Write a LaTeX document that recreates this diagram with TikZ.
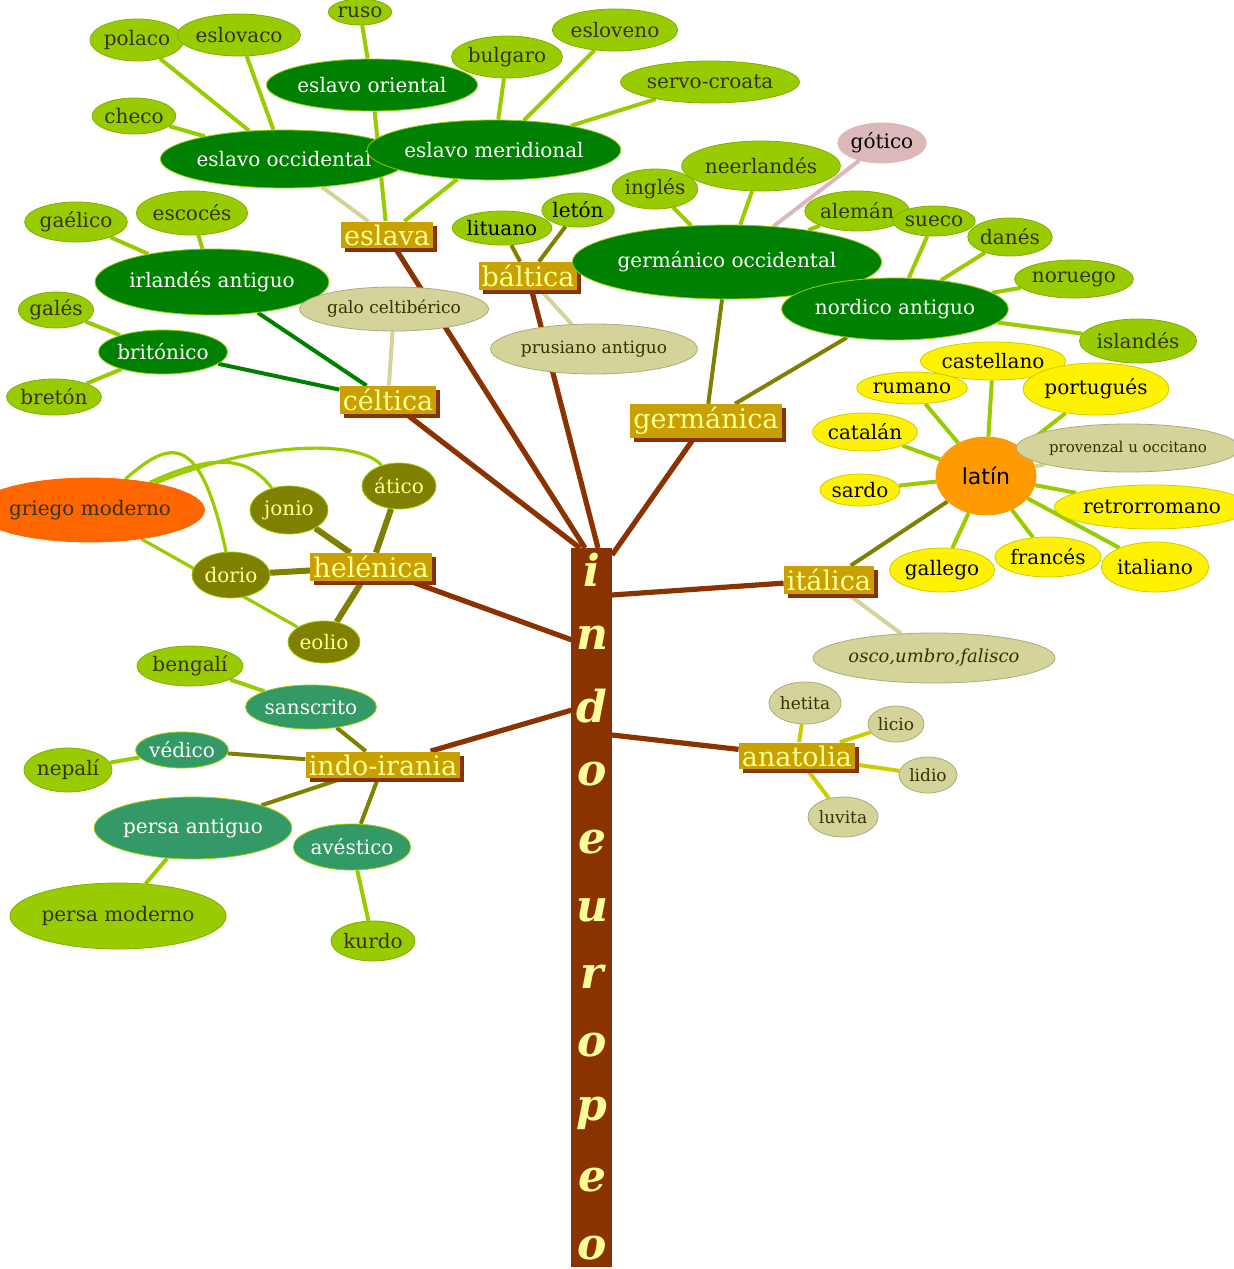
\documentclass[tikz,border=0pt]{standalone}
\usepackage{fontspec}
\setmainfont{DejaVu Serif}
\newfontfamily\sansf{DejaVu Sans}
\usetikzlibrary{shapes.geometric,shadows,backgrounds}
\definecolor{lgreen}{HTML}{99CC00}
\definecolor{dgreen}{HTML}{008000}
\definecolor{olivec}{HTML}{808000}
\definecolor{khaki}{HTML}{D4D49A}
\definecolor{gold}{HTML}{C8A000}
\definecolor{brownc}{HTML}{8B3300}
\definecolor{lyel}{HTML}{FFFF99}
\definecolor{seag}{HTML}{339966}
\definecolor{txt}{HTML}{333300}
\definecolor{pinkc}{HTML}{DDB8B8}
\definecolor{redo}{HTML}{FF6600}
\definecolor{orangec}{HTML}{FF9900}
\definecolor{yelc}{HTML}{CCCC00}
\tikzset{
 W/.style={minimum width=#1*0.5pt}, H/.style={minimum height=#1*0.5pt},
 ell/.style={ellipse, inner sep=0pt, font=\fontsize{10}{11}\selectfont, line width=0.4pt},
 lg/.style={ell, fill=lgreen, draw=lgreen!85!black, text=txt},
 dg/.style={ell, fill=dgreen, draw=lgreen, text=white},
 kh/.style={ell, fill=khaki, draw=khaki!80!black, text=txt},
 ol/.style={ell, fill=olivec, draw=lgreen, text=lyel},
 sg/.style={ell, fill=seag, draw=lgreen, text=white},
 ye/.style={ell, fill=yellow, draw=yelc, text=black},
 br/.style={fill=gold, text=lyel, inner sep=1.5pt, font=\fontsize{13.5}{14}\selectfont,
   drop shadow={fill=brownc, opacity=1, shadow xshift=2pt, shadow yshift=-2pt}},
 bl/.style={draw=brownc, line width=2.6pt},
 gl/.style={draw=lgreen, line width=2pt},
 dl/.style={draw=dgreen, line width=2pt},
 ol2/.style={draw=olivec, line width=2pt},
 kl/.style={draw=khaki, line width=2pt},
 yl/.style={draw=yelc, line width=2pt},
 pl/.style={draw=pinkc, line width=2pt},
}
\begin{document}
\begin{tikzpicture}[x=0.5pt,y=-0.5pt]
\useasboundingbox (0,0) rectangle (1234,1269);
% trunk
\node[fill=brownc, minimum width=20.5pt, minimum height=359.5pt, inner sep=0pt, anchor=north west] (trunk) at (571,548) {};
\foreach \l/\y [count=\i] in {i/570,n/638,d/706,o/774,e/842,u/910,r/977,o/1045,p/1113,e/1180,o/1248}
  \node[text=lyel, font=\fontsize{22}{22}\selectfont\bfseries\itshape] (L\i) at (592,\y) {\l};
\coordinate (tA) at (585,548); \coordinate (tB) at (598,548); \coordinate (tC) at (580,548);
\coordinate (tD) at (612,555); \coordinate (tE) at (572,640); \coordinate (tF) at (612,595);
\coordinate (tG) at (572,710); \coordinate (tH) at (612,735);

% branch boxes
\node[br] (eslava) at (387,235) {eslava};
\node[br] (baltica) at (528,276) {báltica};
\node[br] (celtica) at (388,400) {céltica};
\node[br] (germanica) at (706,421) {germánica};
\node[br] (helenica) at (371,567) {helénica};
\node[br] (italica) at (829,580) {itálica};
\node[br] (indoirania) at (383,765) {indo-irania};
\node[br] (anatolia) at (797,756) {anatolia};

% slavic
\node[dg,W=190,H=58] (eocc) at (284,159) {eslavo occidental};
\node[dg,W=170,H=52] (eori) at (372,85) {eslavo oriental};
\node[dg,W=200,H=60] (emer) at (494,150) {eslavo meridional};
\node[lg,W=80,H=42] (polaco) at (137,40) {polaco};
\node[lg,W=100,H=42] (eslovaco) at (239,35) {eslovaco};
\node[lg,W=70,H=36] (checo) at (134,116) {checo};
\node[lg,W=50,H=26] (ruso) at (360,12) {ruso};
\node[lg,W=96,H=42] (bulgaro) at (507,57) {bulgaro};
\node[lg,W=100,H=42] (esloveno) at (615,30) {esloveno};
\node[lg,W=145,H=42] (servo) at (710,82) {servo-croata};

% baltic
\node[lg,W=90,H=34,text=black] (lituano) at (502,228) {lituano};
\node[lg,W=64,H=34,text=black] (leton) at (578,210) {letón};
\node[kh,W=150,H=50,font=\fontsize{8.5}{9}\selectfont] (prusiano) at (594,349) {prusiano antiguo};

% celtic
\node[dg,W=190,H=66] (irl) at (212,282) {irlandés antiguo};
\node[dg,W=106,H=44] (brit) at (163,352) {britónico};
\node[kh,W=130,H=44,font=\fontsize{8.5}{9}\selectfont] (galo) at (394,309) {galo celtibérico};
\node[lg,W=86,H=40] (gaelico) at (76,222) {gaélico};
\node[lg,W=96,H=44] (escoces) at (192,213) {escocés};
\node[lg,W=68,H=36] (gales) at (56,310) {galés};
\node[lg,W=74,H=36] (breton) at (54,397) {bretón};

% germanic
\node[dg,W=242,H=74] (gocc) at (727,262) {germánico occidental};
\node[dg,W=186,H=62] (nord) at (895,309) {nordico antiguo};
\node[lg,W=78,H=40] (ingles) at (655,189) {inglés};
\node[lg,W=128,H=50] (neer) at (761,166) {neerlandés};
\node[ell,fill=pinkc,draw=pinkc,text=black,W=78,H=40] (gotico) at (882,143) {gótico};
\node[lg,W=86,H=40] (aleman) at (857,211) {alemán};
\node[lg,W=64,H=30] (sueco) at (934,221) {sueco};
\node[lg,W=74,H=38] (danes) at (1010,237) {danés};
\node[lg,W=96,H=38] (noruego) at (1074,279) {noruego};
\node[lg,W=100,H=44] (islandes) at (1138,341) {islandés};

% italic
\node[ell,fill=orangec,draw=orangec,text=black,W=100,H=78,font=\sansf\fontsize{11}{12}\selectfont] (latin) at (986,476) {latín};
\node[kh,W=172,H=50,font=\fontsize{9}{10}\selectfont\itshape] (osco) at (934,658) {osco,umbro,falisco};
\node[ye,W=112,H=38] (cast) at (993,361) {castellano};
\node[ye,W=96,H=32] (rumano) at (912,388) {rumano};
\node[ye,W=122,H=52] (port) at (1096,389) {portugués};
\node[kh,W=160,H=48,font=\fontsize{7.5}{8}\selectfont] (prov) at (1128,448) {provenzal u occitano};
\node[ye,W=90,H=38] (catalan) at (865,432) {catalán};
\node[ye,W=70,H=32] (sardo) at (860,490) {sardo};
\node[ye,W=154,H=44] (retro) at (1152,507) {retrorromano};
\node[ye,W=90,H=44] (gallego) at (942,570) {gallego};
\node[ye,W=88,H=40] (frances) at (1048,557) {francés};
\node[ye,W=104,H=50] (italiano) at (1155,567) {italiano};

% hellenic
\node[ell,fill=redo,draw=redo,text=txt,W=180,H=64] (griego) at (90,510) {griego moderno};
\node[ol,W=78,H=48] (jonio) at (289,510) {jonio};
\node[ol,W=74,H=46] (atico) at (399,486) {ático};
\node[ol,W=78,H=46] (dorio) at (231,575) {dorio};
\node[ol,W=72,H=42] (eolio) at (324,642) {eolio};

% indo-iranian
\node[sg,W=116,H=44] (sans) at (311,707) {sanscrito};
\node[sg,W=84,H=36] (vedico) at (182,750) {védico};
\node[sg,W=174,H=62] (pant) at (193,828) {persa antiguo};
\node[sg,W=104,H=46] (aves) at (352,847) {avéstico};
\node[lg,W=98,H=40] (bengali) at (190,666) {bengalí};
\node[lg,W=84,H=44] (nepali) at (68,770) {nepalí};
\node[lg,W=188,H=66] (pmod) at (118,916) {persa moderno};
\node[lg,W=78,H=40] (kurdo) at (373,941) {kurdo};

% anatolian
\node[kh,W=72,H=42,font=\fontsize{8.5}{9}\selectfont] (hetita) at (805,703) {hetita};
\node[kh,W=56,H=36,font=\fontsize{8.5}{9}\selectfont] (licio) at (896,724) {licio};
\node[kh,W=58,H=36,font=\fontsize{8.5}{9}\selectfont] (lidio) at (928,775) {lidio};
\node[kh,W=70,H=40,font=\fontsize{8.5}{9}\selectfont] (luvita) at (843,817) {luvita};

\begin{pgfonlayer}{background}
% trunk branches
\draw[bl] (eslava) -- (tA);
\draw[bl] (baltica) -- (tB);
\draw[bl] (celtica) -- (tC);
\draw[bl] (germanica) -- (tD);
\draw[bl] (helenica) -- (tE);
\draw[bl] (italica) -- (tF);
\draw[bl] (indoirania) -- (tG);
\draw[bl] (anatolia) -- (tH);
% slavic
\draw[kl] (eslava) -- (eocc);
\draw[gl] (eslava) -- (eori);
\draw[gl] (eslava) -- (emer);
\draw[gl] (eocc) -- (polaco);
\draw[gl] (eocc) -- (eslovaco);
\draw[gl] (eocc) -- (checo);
\draw[gl] (eori) -- (ruso);
\draw[gl] (emer) -- (bulgaro);
\draw[gl] (emer) -- (esloveno);
\draw[gl] (emer) -- (servo);
% baltic
\draw[ol2] (baltica) -- (lituano);
\draw[ol2] (baltica) -- (leton);
\draw[kl] (baltica) -- (prusiano);
% celtic
\draw[dl] (celtica) -- (irl);
\draw[dl] (celtica) -- (brit);
\draw[kl] (celtica) -- (galo);
\draw[gl] (irl) -- (gaelico);
\draw[gl] (irl) -- (escoces);
\draw[gl] (brit) -- (gales);
\draw[gl] (brit) -- (breton);
% germanic
\draw[ol2] (germanica) -- (gocc);
\draw[ol2] (germanica) -- (nord);
\draw[gl] (gocc) -- (ingles);
\draw[gl] (gocc) -- (neer);
\draw[pl] (gocc) -- (gotico);
\draw[gl] (gocc) -- (aleman);
\draw[gl] (nord) -- (sueco);
\draw[gl] (nord) -- (danes);
\draw[gl] (nord) -- (noruego);
\draw[gl] (nord) -- (islandes);
% italic
\draw[ol2] (italica) -- (latin);
\draw[kl] (italica) -- (osco);
\foreach \n in {cast,rumano,port,catalan,sardo,retro,gallego,frances,italiano} \draw[gl] (latin) -- (\n);
\draw[kl] (latin) -- (prov);
% hellenic
\draw[ol2,line width=3pt] (helenica) -- (jonio);
\draw[ol2,line width=3pt] (helenica) -- (atico);
\draw[ol2,line width=3pt] (helenica) -- (dorio);
\draw[ol2,line width=3pt] (helenica) -- (eolio);
\draw[gl,line width=1.6pt] (griego) .. controls (170,440) and (200,430) .. (dorio);
\draw[gl,line width=1.6pt] (griego) .. controls (220,450) and (250,460) .. (jonio);
\draw[gl,line width=1.6pt] (griego) .. controls (260,440) and (360,440) .. (atico);
\draw[gl,line width=1.6pt] (griego) -- (eolio);
% indo-iranian
\draw[ol2] (indoirania) -- (sans);
\draw[ol2] (indoirania) -- (vedico);
\draw[ol2] (indoirania) -- (pant);
\draw[ol2] (indoirania) -- (aves);
\draw[gl] (sans) -- (bengali);
\draw[gl] (vedico) -- (nepali);
\draw[gl] (pant) -- (pmod);
\draw[gl] (aves) -- (kurdo);
% anatolian
\draw[yl] (anatolia) -- (hetita);
\draw[yl] (anatolia) -- (licio);
\draw[yl] (anatolia) -- (lidio);
\draw[yl] (anatolia) -- (luvita);
\end{pgfonlayer}
\end{tikzpicture}
\end{document}
